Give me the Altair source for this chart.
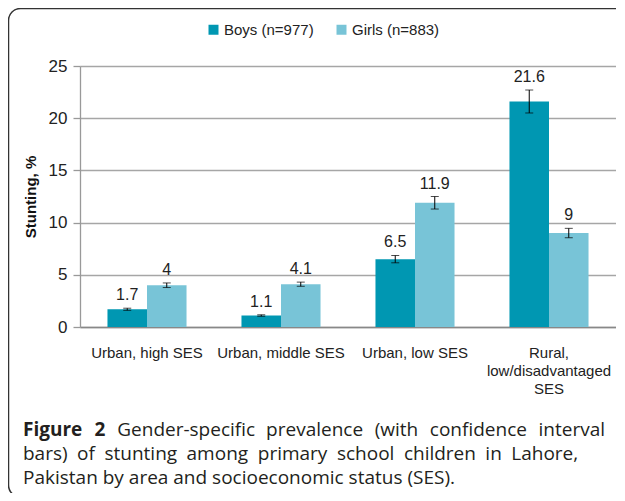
import altair as alt
import pandas as pd

categories = ["Urban, high SES", "Urban, middle SES", "Urban, low SES", "Rural, low/disadvantaged SES"]
groups = ["Boys (n=977)", "Girls (n=883)"]
colors = ["#0097B2", "#78C4D7"]

boys = [1.7, 1.1, 6.5, 21.6]
girls = [4.0, 4.1, 11.9, 9.0]
boys_lo = [1.6, 1.03, 6.15, 20.5]
boys_hi = [1.8, 1.17, 6.85, 22.7]
girls_lo = [3.78, 3.9, 11.3, 8.55]
girls_hi = [4.22, 4.3, 12.5, 9.45]
boys_text = ["1.7", "1.1", "6.5", "21.6"]
girls_text = ["4", "4.1", "11.9", "9"]

caption_bold = ["Figure", "2"]
caption_line1 = "Gender-specific prevalence (with confidence interval"
caption_line2 = "bars) of stunting among primary school children in Lahore,"
caption_line3 = "Pakistan by area and socioeconomic status (SES)."

rows = []
for i, c in enumerate(categories):
    rows.append(dict(category=c, group=groups[0], value=boys[i], lo=boys_lo[i], hi=boys_hi[i], label=boys_text[i]))
    rows.append(dict(category=c, group=groups[1], value=girls[i], lo=girls_lo[i], hi=girls_hi[i], label=girls_text[i]))
df = pd.DataFrame(rows)

FONT = "Liberation Sans"
YT = "Stunting, %"

x_enc = alt.X(
    "category:N", sort=categories, title=None,
    scale=alt.Scale(paddingInner=0.41, paddingOuter=0.205),
    axis=alt.Axis(
        labelAngle=0, labelFont=FONT, labelFontSize=15, labelColor="#222",
        labelPadding=18, labelLineHeight=18, ticks=False,
        domainColor="#888", domainWidth=1.5, grid=False, labelBaseline="top",
        labelExpr="datum.label == 'Rural, low/disadvantaged SES' ? ['Rural,', 'low/disadvantaged', 'SES'] : datum.label",
    ),
)
xo_enc = alt.XOffset("group:N", sort=groups, scale=alt.Scale(paddingInner=0, paddingOuter=0))

base = alt.Chart(df).encode(x=x_enc, xOffset=xo_enc)

bars = base.mark_bar().encode(
    y=alt.Y(
        "value:Q", title=YT, scale=alt.Scale(domain=[0, 25], nice=False),
        axis=alt.Axis(
            values=[0, 5, 10, 15, 20, 25], grid=True, gridColor="#A6A6A6", gridWidth=1.3,
            domainColor="#999", domainWidth=1.3, tickColor="#999", tickSize=7, tickWidth=1.3,
            labelFont=FONT, labelFontSize=17, labelColor="#222", labelPadding=6,
            titleFont=FONT, titleFontSize=15, titleFontWeight="bold", titleColor="#111",
            titlePadding=10,
        ),
    ),
    color=alt.Color(
        "group:N", scale=alt.Scale(domain=groups, range=colors),
        legend=alt.Legend(
            orient="none", legendX=126, legendY=-44, direction="horizontal", title=None,
            symbolType="square", symbolSize=100, symbolStrokeWidth=0,
            labelFont=FONT, labelFontSize=15, labelColor="#222", columnPadding=20, labelOffset=3,
        ),
    ),
)

rules = base.mark_rule(color="black", strokeWidth=1).encode(
    y=alt.Y("lo:Q", title=YT), y2="hi:Q"
)
cap_hi = base.mark_tick(color="black", size=8, thickness=1).encode(y=alt.Y("hi:Q", title=YT))
cap_lo = base.mark_tick(color="black", size=8, thickness=1).encode(y=alt.Y("lo:Q", title=YT))
labels = base.mark_text(dy=-13, fontSize=16, font=FONT, color="#222", baseline="middle").encode(
    y=alt.Y("hi:Q", title=YT), text="label:N"
)

one = pd.DataFrame({"k": [0]})
frame = alt.Chart(one).mark_rect(
    fill="transparent", stroke="#333", strokeWidth=1.5, cornerRadius=12
).encode(x=alt.value(-71.5), x2=alt.value(700), y=alt.value(-57.5), y2=alt.value(431))

# ---- caption (justified layout helper) ----
cap_font = "Open Sans"
cap_size = 19
CAPC = "#231F20"
REG = {" ": .26, "a": .556, "b": .613, "c": .476, "d": .613, "e": .561, "f": .339, "g": .548,
       "h": .614, "i": .253, "k": .525, "l": .253, "m": .930, "n": .614, "o": .604, "p": .613,
       "r": .408, "s": .477, "t": .353, "u": .614, "v": .501, "w": .778, "y": .502, "G": .699,
       "L": .525, "P": .586, "S": .519, "E": .535, "(": .297, ")": .297, ",": .245, ".": .266,
       "-": .322}
BOLD = {"F": .575, "i": .291, "g": .563, "u": .669, "r": .453, "e": .605, "2": .586}


def wwidth(word, table):
    return sum(table.get(ch, .56) for ch in word) * cap_size


def cap_word(txt, x, y, bold=False):
    kw = dict(align="left", baseline="middle", font=cap_font, fontSize=cap_size, color=CAPC)
    if bold:
        kw["fontWeight"] = "bold"
    return alt.Chart(one).mark_text(**kw).encode(
        x=alt.value(x), y=alt.value(y), text=alt.value(txt))


def justified(words, left, right, y):
    widths = [wwidth(w, BOLD if b else REG) for w, b in words]
    gap = (right - left - sum(widths)) / (len(words) - 1)
    out, x = [], left
    for (w, b), wd in zip(words, widths):
        out.append(cap_word(w, x, y, bold=b))
        x += wd + gap
    return out


L0 = -57
line1_words = [(w, True) for w in caption_bold] + [(w, False) for w in caption_line1.split(" ")]
line2_words = [(w, False) for w in caption_line2.split(" ")]
caps = justified(line1_words, L0, 525, 364) + justified(line2_words, L0, 498, 388)
caps.append(cap_word(caption_line3, L0, 412))

chart = alt.layer(frame, bars, rules, cap_hi, cap_lo, labels, *caps).properties(
    width=536, height=261,
    padding={"left": 72, "top": 58, "right": 0, "bottom": 166},
    autosize=alt.AutoSizeParams(type="none"),
).configure_view(stroke=None)

chart.save("out.html", embed_options={"renderer": "svg", "actions": False})
